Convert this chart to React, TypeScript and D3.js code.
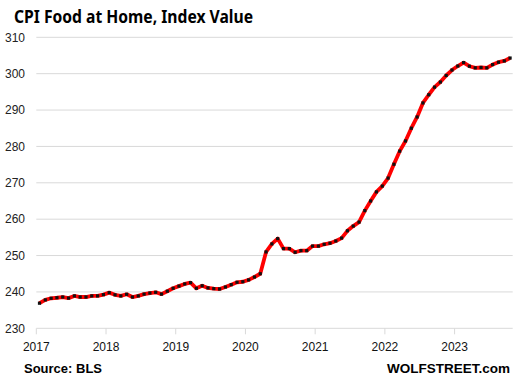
import React from 'react'
import * as d3 from 'd3'

// monthly index values, Jan 2017 .. Oct 2023
const values = [
  236.9, 237.8, 238.25, 238.4, 238.6, 238.3, 238.9, 238.6, 238.6, 238.9, 238.9, 239.25,
  239.8, 239.2, 238.9, 239.35, 238.6, 238.9, 239.4, 239.7, 239.9, 239.4, 240.2, 241.0,
  241.6, 242.2, 242.55, 241.0, 241.7, 241.1, 240.9, 240.8, 241.35, 242.0, 242.65, 242.8,
  243.3, 244.1, 245.0, 251.0, 253.2, 254.65, 251.9, 251.9, 250.9, 251.35, 251.35, 252.6,
  252.6, 253.1, 253.4, 254.0, 254.8, 256.8, 258.1, 259.2, 262.35, 265.0, 267.5, 269.1,
  271.3, 275.1, 278.7, 281.5, 285.0, 288.1, 291.95, 294.2, 296.3, 297.7, 299.5, 301.0,
  302.1, 303.05, 302.05, 301.6, 301.7, 301.6, 302.5, 303.15, 303.5, 304.3,
]
const years = ['2017', '2018', '2019', '2020', '2021', '2022', '2023']
const yTicks = [230, 240, 250, 260, 270, 280, 290, 300, 310]

const W = 521
const H = 384
const left = 36.3
const right = 512.7
const top = 37.3
const bottom = 328.3

const App = () => {
  const x = d3.scaleLinear().domain([0, 82]).range([left, right])
  const y = d3.scaleLinear().domain([230, 310]).range([bottom, top])

  const line = d3.line<number>()
    .x((d, i) => x(i + 0.55))
    .y(d => y(d))

  const font = '"Liberation Sans", Arial, sans-serif'

  return (
    <svg width={W} height={H} style={{ position: 'absolute', left: 0, top: 0, background: '#fff' }}>
      <text x={14} y={23} fontFamily='"Noto Sans", sans-serif' fontWeight='bold' fontSize={18}
        textLength={239} lengthAdjust='spacingAndGlyphs' fill='#000'>
        CPI Food at Home,  Index Value
      </text>

      {/* grid */}
      {yTicks.map(t => (
        <g key={t}>
          <line x1={left} x2={right} y1={y(t)} y2={y(t)} stroke='#d9d9d9' strokeWidth={1} />
          <text x={25} y={y(t)} dy='0.35em' textAnchor='end' fontFamily={font} fontSize={12} fill='#222'>
            {t}
          </text>
        </g>
      ))}

      {/* x axis ticks */}
      {years.map((yr, k) => (
        <g key={yr}>
          <line x1={x(k * 12)} x2={x(k * 12)} y1={bottom} y2={bottom + 6} stroke='#d9d9d9' strokeWidth={1} />
          <text x={x(k * 12)} y={347} dy='0.35em' textAnchor='middle' fontFamily={font} fontSize={12} fill='#111'>
            {yr}
          </text>
        </g>
      ))}

      <path d={line(values) ?? ''} fill='none' stroke='#ff0000' strokeWidth={3.8} strokeLinejoin='round' />
      {values.map((v, i) => (
        <rect key={i} x={x(i + 0.55) - 1.6} y={y(v) - 1.6} width={3.2} height={3.2} fill='#111' />
      ))}

      <text x={24} y={368} dy='0.35em' fontFamily={font} fontWeight='bold' fontSize={13} fill='#000'>
        Source: BLS
      </text>
      <text x={510} y={368} dy='0.35em' textAnchor='end' fontFamily={font} fontWeight='bold' fontSize={13.5}
        fill='#000'>
        WOLFSTREET.com
      </text>
    </svg>
  )
}

export default App
